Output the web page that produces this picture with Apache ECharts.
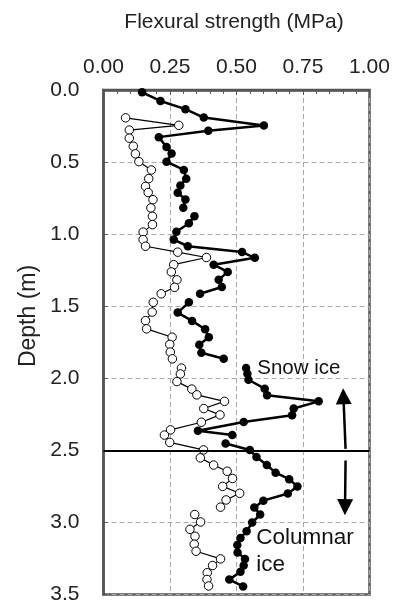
<!DOCTYPE html>
<html>
<head>
<meta charset="utf-8">
<script src="https://cdn.jsdelivr.net/npm/echarts@6/dist/echarts.min.js"></script>
<style>
html,body{margin:0;padding:0;background:#fff;}
#chart{width:402px;height:605px;}
</style>
</head>
<body>
<div id="chart"></div>
<script>
// ---- axis ticks ----
const strengthTicks = [0, 0.25, 0.5, 0.75, 1.0];
const depthTicks = [0, 0.5, 1.0, 1.5, 2.0, 2.5, 3.0, 3.5];
const xTitle = 'Flexural strength (MPa)';
const yTitle = 'Depth (m)';

// ---- filled-circle series (null = break between core sections) ----
const filledDepth = [0.016,0.076,0.133,0.191,0.247,0.283,0.327,0.395,0.441,0.497,0.555,0.615,0.663,0.713,0.760,0.817,null,
  0.875,0.925,0.983,1.038,1.084,1.124,1.164,1.212,1.262,1.317,1.367,1.414,null,
  1.473,1.544,1.602,1.660,1.715,1.767,1.823,1.865,null,
  1.929,1.968,2.010,2.072,2.117,2.160,2.210,2.256,2.303,2.364,2.394,null,
  2.452,2.497,2.546,2.602,2.655,2.700,2.750,2.799,2.849,2.897,2.945,3.001,3.061,3.108,3.156,3.208,3.253,3.298,3.343,3.396,3.444];
const filledStrength = [0.145,0.214,0.308,0.377,0.603,0.394,0.208,0.237,0.256,0.237,0.302,0.311,0.289,0.279,0.308,0.300,null,
  0.342,0.321,0.274,0.264,0.317,0.521,0.569,0.414,0.467,0.433,0.445,0.363,null,
  0.321,0.279,0.333,0.382,0.396,0.360,0.368,0.452,null,
  0.536,0.541,0.545,0.606,0.615,0.809,0.715,0.709,0.527,0.355,0.484,null,
  0.459,0.550,0.575,0.614,0.647,0.698,0.729,0.693,0.601,0.567,0.589,0.559,0.538,0.515,0.503,0.504,0.532,0.527,0.515,0.473,0.525];

// ---- open-circle series ----
const openDepth = [0.193,0.245,0.278,0.334,0.390,0.443,0.497,0.555,0.615,0.669,0.711,0.761,0.818,null,
  0.876,0.934,0.986,1.038,1.084,1.125,1.162,1.212,1.262,1.317,1.369,1.414,null,
  1.473,1.541,1.600,1.657,1.715,1.765,1.818,1.865,null,
  1.929,1.970,2.023,2.075,2.115,2.160,2.210,2.254,2.305,2.358,2.394,2.445,2.497,2.552,2.602,2.645,2.695,2.750,2.798,2.844,2.894,null,
  2.945,2.997,3.048,3.096,3.151,3.200,3.253,3.299,3.349,3.396,3.441];
const openStrength = [0.083,0.283,0.097,0.097,0.112,0.120,0.133,0.180,0.170,0.158,0.168,0.186,0.178,null,
  0.184,0.184,0.149,0.149,0.158,0.279,0.387,0.264,0.255,0.276,0.267,0.217,null,
  0.187,0.183,0.158,0.162,0.258,0.249,0.251,0.259,null,
  0.293,0.289,0.276,0.332,0.351,0.455,0.377,0.438,0.368,0.252,0.229,0.249,0.376,0.364,0.414,0.465,0.485,0.448,0.512,0.461,0.440,null,
  0.343,0.365,0.325,0.344,0.341,0.348,0.440,0.410,0.390,0.389,0.395];

// ---- annotations ----
const boundaryDepth = 2.5;
const upArrowStrength = [0.910, 0.902];
const upArrowDepth = [2.49, 2.125];
const downArrowStrength = [0.910, 0.908];
const downArrowDepth = [2.57, 2.894];
const labelTexts = ['Snow ice', 'Columnar\nice'];
const labelStrength = [0.578, 0.574];
const labelDepth = [1.934, 3.20];

const FONT = "'Liberation Sans', Arial, Helvetica, sans-serif";
const pair = (xs, ys) => ys.map((d, i) => (d == null ? [null, null] : [xs[i], d]));

const chart = echarts.init(document.getElementById('chart'), null, {renderer: 'canvas'});
const axisColor = '#555555';
const gridDash = {type: [5, 3], color: '#a8a8a8', width: 1};

chart.setOption({
  animation: false,
  backgroundColor: '#ffffff',
  grid: {left: 103.5, right: 32.5, top: 90, bottom: 8, show: true, borderColor: axisColor, borderWidth: 2.5, backgroundColor: 'transparent'},
  graphic: [
    {type: 'text', x: 234, y: 22, style: {text: xTitle, font: '21px ' + FONT, fill: '#222', align: 'center', verticalAlign: 'middle'}},
    {type: 'text', x: 29, y: 316, rotation: Math.PI / 2, style: {text: yTitle, font: '23px ' + FONT, fill: '#222', align: 'center', verticalAlign: 'middle'}}
  ],
  xAxis: {
    type: 'value', position: 'top', min: strengthTicks[0], max: strengthTicks[strengthTicks.length - 1], interval: 0.25,
    axisLine: {show: true, lineStyle: {color: axisColor, width: 2.5}},
    axisTick: {show: true, inside: true, length: 5, lineStyle: {color: axisColor, width: 1}},
    minorTick: {show: true, splitNumber: 5, length: 4, lineStyle: {color: axisColor, width: 1}},
    axisLabel: {formatter: v => v.toFixed(2), fontSize: 21, fontFamily: FONT, color: '#222', margin: 12},
    splitLine: {show: true, lineStyle: gridDash}
  },
  yAxis: {
    type: 'value', inverse: true, min: depthTicks[0], max: depthTicks[depthTicks.length - 1], interval: 0.5,
    axisLine: {show: true, lineStyle: {color: axisColor, width: 2.5}},
    axisTick: {show: true, inside: true, length: 4, lineStyle: {color: axisColor, width: 1}},
    axisLabel: {formatter: v => v.toFixed(1), fontSize: 21, fontFamily: FONT, color: '#222', margin: 24},
    splitLine: {show: true, lineStyle: gridDash}
  },
  series: [
    {
      type: 'line', name: 'filled', data: pair(filledStrength, filledDepth),
      symbol: 'circle', symbolSize: 8.5, connectNulls: false,
      lineStyle: {color: '#000', width: 2.5}, itemStyle: {color: '#000'}, z: 3,
      markLine: {
        silent: true, animation: false, symbol: ['none', 'none'], label: {show: false},
        lineStyle: {color: '#000', width: 2, type: 'solid'},
        data: [
          {yAxis: boundaryDepth},
          [{coord: [upArrowStrength[0], upArrowDepth[0]], symbol: 'none', lineStyle: {width: 2.5}},
           {coord: [upArrowStrength[1], upArrowDepth[1]], symbol: 'triangle', symbolSize: 16}],
          [{coord: [downArrowStrength[0], downArrowDepth[0]], symbol: 'none', lineStyle: {width: 2.5}},
           {coord: [downArrowStrength[1], downArrowDepth[1]], symbol: 'triangle', symbolSize: 16}]
        ]
      }
    },
    {
      type: 'line', name: 'open', data: pair(openStrength, openDepth),
      symbol: 'circle', symbolSize: 8.5, connectNulls: false,
      lineStyle: {color: '#000', width: 1.2}, itemStyle: {color: '#fff', borderColor: '#000', borderWidth: 1}, z: 4,
      markPoint: {
        silent: true, animation: false, symbol: 'circle', symbolSize: 0,
        label: {show: true, position: 'right', distance: 0, color: '#111', fontFamily: FONT, formatter: p => p.name},
        data: labelTexts.map((t, i) => ({name: t, coord: [labelStrength[i], labelDepth[i]],
          label: {fontSize: i === 0 ? 20.5 : 22.5, lineHeight: 27}}))
      }
    }
  ]
});
</script>
</body>
</html>
